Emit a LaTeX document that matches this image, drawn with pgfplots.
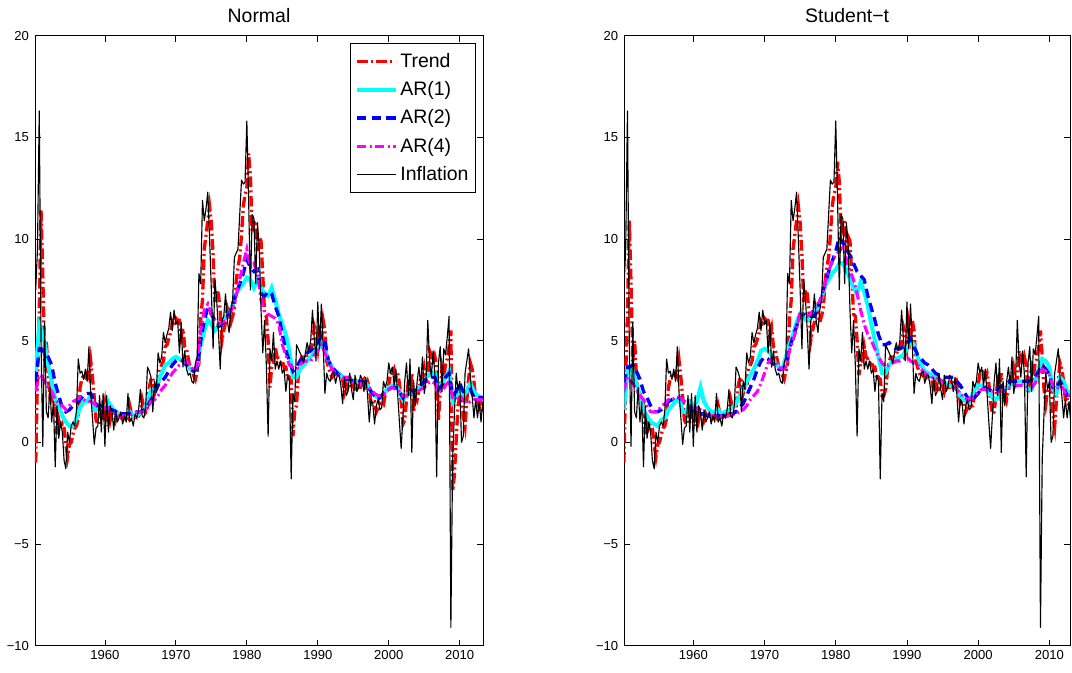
\documentclass[border=0pt]{standalone}
\usepackage{fontspec}
\setmainfont{Liberation Sans}
\usepackage{pgfplots}
\usepackage{pgfplotstable}
\pgfplotsset{compat=1.18}
\definecolor{mred}{rgb}{1,0,0}
\definecolor{mcyan}{rgb}{0,1,1}
\definecolor{mblue}{rgb}{0,0,1}
\definecolor{mmag}{rgb}{1,0,1}

\pgfplotstableread{
x inf tl tr
1950.25 7.5 -1.0 -1.0
1950.5 9.5 3.3 3.3
1950.75 16.3 6.4 6.4
1951.0 5.0 11.4 10.9
1951.25 -0.2 8.2 7.8
1951.5 5.9 4.0 4.0
1951.75 1.5 5.0 5.0
1952.0 1.2 3.3 3.3
1952.25 2.7 2.3 2.3
1952.5 1.0 2.5 2.5
1952.75 2.0 1.8 1.8
1953.0 -1.2 1.9 1.9
1953.25 1.8 0.4 0.4
1953.5 0.2 1.1 1.1
1953.75 1.0 0.7 0.7
1954.0 0.5 0.9 0.9
1954.25 -0.9 0.7 0.7
1954.5 -1.3 -0.1 -0.1
1954.75 0.5 -0.7 -0.7
1955.0 0.0 -0.1 -0.1
1955.25 0.8 0.0 0.0
1955.5 1.0 0.4 0.4
1955.75 0.8 0.7 0.7
1956.0 1.6 0.8 0.8
1956.25 4.1 1.2 1.2
1956.5 3.4 2.7 2.7
1956.75 3.5 3.1 3.1
1957.0 3.1 3.3 3.3
1957.25 3.6 3.2 3.2
1957.5 3.0 3.4 3.4
1957.75 4.7 3.2 3.2
1958.0 2.4 4.0 4.0
1958.25 1.2 3.2 3.2
1958.5 -0.1 2.2 2.2
1958.75 0.7 1.1 1.1
1959.0 0.8 0.9 0.9
1959.25 2.3 0.9 0.9
1959.5 0.5 1.6 1.6
1959.75 2.4 1.1 1.1
1960.0 -0.2 1.8 1.8
1960.25 2.3 0.8 0.8
1960.5 0.5 1.6 1.6
1960.75 1.8 1.1 1.1
1961.0 1.5 1.5 1.5
1961.25 0.6 1.5 1.5
1961.5 1.6 1.1 1.1
1961.75 1.0 1.4 1.4
1962.0 1.2 1.2 1.2
1962.25 1.5 1.2 1.2
1962.5 0.9 1.4 1.4
1962.75 1.3 1.2 1.2
1963.0 1.0 1.3 1.3
1963.25 2.4 1.2 1.2
1963.5 1.0 1.8 1.8
1963.75 1.2 1.4 1.4
1964.0 0.8 1.3 1.3
1964.25 1.4 1.1 1.1
1964.5 1.2 1.3 1.3
1964.75 1.6 1.3 1.3
1965.0 2.6 1.5 1.5
1965.25 1.3 2.1 2.1
1965.5 1.2 1.7 1.7
1965.75 1.8 1.5 1.5
1966.0 3.7 1.7 1.7
1966.25 3.5 2.7 2.7
1966.5 3.2 3.1 3.1
1966.75 1.5 3.2 3.2
1967.0 3.0 2.4 2.4
1967.25 2.6 2.7 2.7
1967.5 4.4 2.7 2.7
1967.75 3.9 3.6 3.6
1968.0 4.2 3.8 3.8
1968.25 5.4 4.0 4.0
1968.5 4.9 4.7 4.7
1968.75 5.3 4.8 4.8
1969.0 5.6 5.1 5.1
1969.25 6.4 5.4 5.4
1969.5 5.5 5.9 5.9
1969.75 6.5 5.7 5.7
1970.0 5.8 6.1 6.1
1970.25 6.0 6.0 6.0
1970.5 4.4 6.0 6.0
1970.75 5.9 5.2 5.2
1971.0 3.7 5.6 5.6
1971.25 4.5 4.7 4.7
1971.5 3.6 4.6 4.6
1971.75 3.3 4.1 4.1
1972.0 3.4 3.7 3.7
1972.25 3.0 3.6 3.6
1972.5 2.9 3.3 3.3
1972.75 3.9 3.1 3.1
1973.0 4.2 3.5 3.5
1973.25 8.3 3.9 3.9
1973.5 7.8 6.1 6.1
1973.75 11.9 7.0 7.0
1974.0 10.9 9.5 9.5
1974.25 11.5 10.2 10.2
1974.5 12.3 10.9 10.9
1974.75 10.0 11.6 11.6
1975.0 7.5 10.8 10.8
1975.25 4.6 9.2 9.2
1975.5 8.0 6.9 6.9
1975.75 7.0 7.5 7.5
1976.0 5.5 7.3 7.3
1976.25 3.6 6.4 6.4
1976.5 6.0 5.0 5.0
1976.75 6.2 5.5 5.5
1977.0 7.3 5.9 5.9
1977.25 6.0 6.6 6.6
1977.5 5.4 6.3 6.3
1977.75 6.5 5.9 5.9
1978.0 7.0 6.2 6.2
1978.25 9.1 6.6 6.6
1978.5 9.3 7.9 7.9
1978.75 9.5 8.6 8.6
1979.0 11.2 9.1 9.1
1979.25 12.9 10.2 10.2
1979.5 12.7 11.6 11.6
1979.75 12.8 12.2 12.2
1980.0 15.8 12.5 12.5
1980.25 12.0 14.2 13.8
1980.5 7.5 13.1 12.8
1980.75 11.2 10.3 10.3
1981.0 11.0 10.8 10.8
1981.25 7.8 10.9 10.9
1981.5 10.8 9.4 9.4
1981.75 9.6 10.1 10.1
1982.0 6.5 9.9 9.9
1982.25 4.4 8.2 8.2
1982.5 6.0 6.3 6.3
1982.75 3.8 6.2 6.2
1983.0 0.3 5.0 5.0
1983.25 4.6 2.7 3.3
1983.5 4.0 3.7 3.9
1983.75 5.4 3.9 3.9
1984.0 3.6 4.7 4.7
1984.25 4.0 4.2 4.2
1984.5 3.6 4.1 4.1
1984.75 4.0 3.9 3.9
1985.0 3.4 4.0 4.0
1985.25 3.6 3.7 3.7
1985.5 2.5 3.7 3.7
1985.75 3.3 3.1 3.1
1986.0 3.0 3.2 3.2
1986.25 -1.8 3.1 3.1
1986.5 2.4 0.3 2.3
1986.75 2.0 1.6 2.3
1987.0 4.8 1.8 2.6
1987.25 4.6 3.3 3.5
1987.5 4.4 4.0 4.0
1987.75 4.2 4.2 4.2
1988.0 3.9 4.2 4.2
1988.25 4.4 4.1 4.1
1988.5 4.9 4.3 4.3
1988.75 4.5 4.6 4.6
1989.0 5.0 4.6 4.6
1989.25 6.5 4.8 4.8
1989.5 5.1 5.7 5.7
1989.75 4.0 5.4 5.4
1990.0 6.9 4.7 4.7
1990.25 4.6 5.8 5.8
1990.5 6.8 5.2 5.2
1990.75 4.9 6.0 6.0
1991.0 2.4 5.5 5.5
1991.25 3.4 4.0 4.0
1991.5 3.1 3.7 3.7
1991.75 3.0 3.4 3.4
1992.0 3.4 3.2 3.2
1992.25 3.5 3.3 3.3
1992.5 2.9 3.4 3.4
1992.75 3.3 3.2 3.2
1993.0 3.3 3.3 3.3
1993.25 2.8 3.3 3.3
1993.5 1.9 3.1 3.1
1993.75 3.2 2.5 2.5
1994.0 2.3 2.9 2.9
1994.25 2.5 2.6 2.6
1994.5 3.4 2.6 2.6
1994.75 2.6 3.0 3.0
1995.0 2.1 2.8 2.8
1995.25 3.3 2.5 2.5
1995.5 2.5 2.9 2.9
1995.75 2.7 2.7 2.7
1996.0 3.3 2.7 2.7
1996.25 3.1 3.0 3.0
1996.5 2.5 3.1 3.1
1996.75 3.2 2.8 2.8
1997.0 2.4 3.0 3.0
1997.25 1.0 2.7 2.7
1997.5 2.1 1.9 1.9
1997.75 1.9 2.0 2.0
1998.0 0.9 2.0 2.0
1998.25 1.8 1.5 1.5
1998.5 2.1 1.7 1.7
1998.75 1.6 1.9 1.9
1999.0 1.7 1.8 1.8
1999.25 3.0 1.8 1.8
1999.5 2.7 2.4 2.4
1999.75 3.0 2.6 2.6
2000.0 3.9 2.8 2.8
2000.25 3.4 3.4 3.4
2000.5 3.7 3.4 3.4
2000.75 2.8 3.6 3.6
2001.0 3.6 3.2 3.2
2001.25 2.4 3.4 3.4
2001.5 1.0 2.9 2.9
2001.75 -0.3 2.0 2.0
2002.0 1.3 0.9 1.4
2002.25 3.0 1.1 1.5
2002.5 3.9 2.1 2.3
2002.75 2.3 3.0 3.0
2003.0 4.1 2.7 2.7
2003.25 -0.5 3.4 3.4
2003.5 3.0 1.5 2.2
2003.75 1.8 2.3 2.5
2004.0 3.0 2.1 2.1
2004.25 3.7 2.6 2.6
2004.5 2.8 3.2 3.2
2004.75 4.2 3.0 3.0
2005.0 2.4 3.6 3.6
2005.25 3.0 3.0 3.0
2005.5 6.0 3.0 3.0
2005.75 4.0 4.5 4.5
2006.0 3.2 4.3 4.3
2006.25 4.5 3.8 3.8
2006.5 3.3 4.2 4.2
2006.75 -1.7 3.8 3.8
2007.0 3.9 1.1 2.4
2007.25 4.7 2.5 3.1
2007.5 2.5 3.6 3.6
2007.75 4.6 3.1 3.1
2008.0 4.3 3.9 3.9
2008.25 5.2 4.1 4.1
2008.5 6.2 4.7 4.7
2008.75 -9.1 5.5 5.5
2009.0 -0.8 -2.4 4.2
2009.25 1.4 -1.6 2.6
2009.5 3.4 0.1 1.9
2009.75 2.6 1.8 2.6
2010.0 3.0 2.2 2.7
2010.25 0.0 2.6 2.8
2010.5 0.3 1.3 1.4
2010.75 3.4 0.8 0.8
2011.0 4.0 2.1 2.1
2011.25 4.6 3.1 3.1
2011.5 3.2 3.9 3.9
2011.75 2.3 3.6 3.6
2012.0 1.2 3.0 3.0
2012.25 2.1 2.1 2.1
2012.5 1.2 2.1 2.1
2012.75 2.0 1.7 1.7
2013.0 1.0 1.9 1.9
2013.25 2.0 1.5 1.5
}\qdata

\pgfplotstableread{
x a1l a2l a4l a1r a2r a4r
1950.25 3.5 3.0 2.5 1.6 2.9 2.5
1950.75 5.8 4.6 3.3 3.5 3.7 3.2
1951.0 5.6 4.6 3.3 3.7 3.7 3.1
1951.5 4.9 4.4 3.0 3.5 3.8 2.9
1952.0 3.8 4.2 2.7 2.9 3.5 2.6
1952.5 3.0 3.8 2.5 2.3 3.1 2.3
1953.0 2.1 2.9 2.1 1.6 2.5 2.1
1953.5 1.8 2.3 1.9 1.3 2.2 1.8
1954.0 1.3 1.7 1.8 1.0 1.8 1.5
1954.5 1.0 1.5 1.6 0.9 1.5 1.5
1955.0 0.8 1.6 1.8 0.8 1.5 1.5
1955.5 0.8 1.8 2.0 1.1 1.6 1.8
1956.0 1.2 1.9 2.1 1.2 1.8 1.9
1956.5 1.7 2.1 2.2 1.6 2.0 2.1
1957.0 2.0 2.3 2.1 1.8 2.1 2.1
1957.5 2.0 2.4 2.0 2.0 2.2 2.2
1958.0 2.3 2.4 2.0 2.2 2.2 2.2
1958.5 1.6 2.0 1.9 1.5 2.1 2.1
1959.0 1.6 1.8 1.7 1.5 1.9 1.9
1959.5 1.8 1.8 1.6 2.0 1.7 1.8
1960.0 1.7 1.7 1.7 1.8 1.6 1.7
1960.5 2.0 1.6 1.7 2.0 1.5 1.7
1961.0 1.7 1.6 1.5 2.7 1.4 1.6
1961.5 1.5 1.5 1.4 2.0 1.4 1.4
1962.0 1.4 1.4 1.3 1.7 1.3 1.4
1962.5 1.4 1.4 1.3 1.5 1.3 1.3
1963.0 1.3 1.4 1.3 1.5 1.3 1.3
1963.5 1.5 1.4 1.3 1.6 1.3 1.3
1964.0 1.3 1.4 1.4 1.4 1.3 1.3
1964.5 1.3 1.5 1.5 1.5 1.3 1.3
1965.0 1.5 1.5 1.5 1.6 1.4 1.3
1965.5 1.6 1.6 1.5 1.7 1.4 1.4
1966.0 2.0 1.8 1.7 1.9 1.5 1.4
1966.5 2.6 2.1 2.0 2.3 1.7 1.5
1967.0 2.6 2.4 2.1 2.6 1.9 1.6
1967.5 3.0 2.8 2.3 3.0 2.3 1.8
1968.0 3.4 3.0 2.6 3.3 2.7 2.1
1968.5 3.8 3.2 2.8 3.6 3.1 2.3
1969.0 3.9 3.5 3.1 4.0 3.6 2.5
1969.5 4.1 3.8 3.4 4.5 4.0 2.9
1970.0 4.2 4.0 3.6 4.6 4.2 3.4
1970.5 4.1 4.1 3.8 4.5 4.1 3.9
1971.0 4.0 4.0 3.9 4.3 3.9 4.1
1971.5 3.8 3.8 4.0 3.9 3.8 4.0
1972.0 3.6 3.6 3.8 3.7 3.6 3.7
1972.5 3.5 3.5 3.5 3.6 3.6 3.6
1973.0 3.8 3.6 3.8 4.2 3.8 3.7
1973.5 4.8 5.0 5.5 4.8 4.6 4.5
1974.0 5.5 6.0 6.5 5.3 5.2 5.0
1974.5 6.0 6.6 6.8 5.9 5.7 5.6
1975.0 5.8 6.3 6.3 6.3 6.3 6.4
1975.5 5.5 6.0 6.0 6.1 6.3 6.3
1976.0 5.7 5.7 5.8 6.0 6.2 6.2
1976.5 5.8 5.8 5.9 6.1 6.2 6.3
1977.0 6.2 6.0 6.0 6.4 6.2 6.6
1977.5 6.3 6.3 6.3 6.7 6.6 6.8
1978.0 6.8 6.8 6.6 7.1 7.2 7.1
1978.5 7.3 7.3 7.2 7.7 7.8 7.8
1979.0 7.6 7.8 8.0 8.0 8.4 8.4
1979.5 7.8 8.3 8.8 8.3 8.9 8.9
1980.0 8.1 9.0 9.5 8.5 9.4 9.2
1980.5 8.0 8.6 8.6 8.8 10.1 9.4
1981.0 7.6 8.4 8.8 8.8 9.8 9.6
1981.5 8.0 8.5 8.3 8.5 9.5 9.0
1982.0 7.6 7.3 7.0 8.0 9.2 8.4
1982.5 7.3 7.2 6.4 7.6 8.8 8.0
1983.0 7.2 7.4 6.3 7.3 8.4 7.3
1983.5 7.6 7.3 6.2 7.9 8.2 6.5
1984.0 7.0 6.7 6.1 7.4 8.0 5.8
1984.5 6.3 6.2 5.8 6.7 7.2 5.3
1985.0 5.8 5.3 4.8 5.8 6.6 5.0
1985.5 5.3 4.5 4.3 5.0 6.0 4.6
1986.0 4.5 4.0 3.8 4.2 5.3 4.2
1986.5 3.2 3.5 3.7 3.4 4.8 3.9
1987.0 3.2 3.7 3.6 3.4 4.8 3.7
1987.5 3.6 4.0 3.8 3.8 4.9 3.8
1988.0 3.8 4.2 4.0 4.0 4.7 3.9
1988.5 4.0 4.4 4.0 4.1 4.6 4.0
1989.0 4.2 4.5 4.0 4.2 4.6 4.0
1989.5 4.4 4.7 4.3 4.3 4.7 4.1
1990.0 4.6 4.9 4.5 4.6 4.9 4.2
1990.5 4.9 5.2 4.8 5.0 5.1 4.0
1991.0 4.6 5.0 4.4 4.8 4.7 3.9
1991.5 4.0 4.0 4.0 4.2 4.3 3.8
1992.0 3.7 3.7 3.6 3.8 4.1 3.6
1992.5 3.5 3.5 3.4 3.5 3.9 3.4
1993.0 3.4 3.3 3.3 3.4 3.8 3.3
1993.5 3.2 3.2 3.2 3.3 3.6 3.2
1994.0 3.1 3.1 3.2 3.2 3.4 3.2
1994.5 3.1 3.1 3.2 3.1 3.3 3.1
1995.0 3.0 3.0 3.0 3.0 3.2 3.0
1995.5 3.0 3.0 2.9 2.9 3.2 2.9
1996.0 2.9 3.0 2.9 2.8 3.2 2.8
1996.5 3.0 3.0 2.8 2.7 3.2 2.7
1997.0 2.8 2.8 2.8 2.6 3.0 2.6
1997.5 2.5 2.5 2.6 2.3 2.8 2.4
1998.0 2.3 2.3 2.4 2.1 2.5 2.2
1998.5 2.2 2.1 2.3 1.9 2.2 2.1
1999.0 2.3 2.3 2.3 2.2 2.0 2.2
1999.5 2.5 2.5 2.4 2.6 2.2 2.3
2000.0 2.7 2.6 2.6 2.8 2.4 2.5
2000.5 2.8 2.7 2.7 2.8 2.7 2.6
2001.0 2.8 2.7 2.6 2.7 2.7 2.6
2001.5 2.5 2.5 2.5 2.5 2.6 2.5
2002.0 2.1 2.2 2.3 2.2 2.5 2.5
2002.5 2.3 2.4 2.3 2.1 2.5 2.5
2003.0 2.5 2.6 2.4 2.3 2.7 2.5
2003.5 2.4 2.5 2.4 2.5 2.8 2.5
2004.0 2.6 2.6 2.5 2.7 2.9 2.6
2004.5 2.8 2.8 2.6 2.8 3.0 2.7
2005.0 3.0 3.0 2.7 2.9 3.0 2.7
2005.5 3.3 3.2 2.9 3.0 3.0 2.8
2006.0 3.4 3.2 3.0 3.0 3.0 2.8
2006.5 3.4 3.2 2.9 2.9 3.0 2.8
2007.0 2.6 2.6 2.5 2.6 3.0 2.7
2007.5 2.9 2.8 2.5 2.6 3.1 2.7
2008.0 3.2 3.2 2.8 3.0 3.2 2.9
2008.5 3.5 3.4 3.0 3.6 3.5 3.3
2009.0 2.0 2.3 2.2 4.1 3.8 3.6
2009.5 2.3 2.5 2.1 4.0 3.6 3.5
2010.0 2.7 2.9 2.3 3.7 3.3 3.3
2010.5 2.3 2.5 2.1 2.6 2.7 2.8
2011.0 2.5 2.5 1.9 2.4 2.7 2.6
2011.5 2.9 2.6 2.0 3.2 3.0 2.8
2012.0 2.5 2.2 2.1 3.0 2.7 2.6
2012.5 2.3 2.2 2.1 2.5 2.3 2.3
2013.0 2.2 2.2 2.1 2.4 2.3 2.3
2013.25 2.2 2.2 2.1 2.4 2.3 2.3
}\ardata

\pgfplotsset{
  panel/.style={
    scale only axis, height=457.5pt,
    anchor=south west,
    ymin=-10, ymax=20,
    ytick={-10,-5,0,5,10,15,20},
    yticklabels={−10,−5,0,5,10,15,20},
    xtick={1960,1970,1980,1990,2000,2010},
    xticklabels={1960,1970,1980,1990,2000,2010},
    tick align=inside, major tick length=4.5pt,
    axis line style={line width=0.6pt},
    every tick/.style={black, line width=0.6pt},
    ticklabel style={font=\fontsize{9.8}{11}\selectfont},
    yticklabel style={xshift=-1pt},
    title style={font=\fontsize{14.6}{17}\selectfont, yshift=0pt},
    legend image code/.code={\draw[#1] (0pt,0pt) -- (29pt,0pt);},
  },
  trend/.style={mred, line width=2.5pt, dash pattern=on 8pt off 2.5pt on 1.5pt off 2.5pt},
  ar1/.style={mcyan, line width=3pt},
  ar2/.style={mblue, line width=2.5pt, dash pattern=on 7pt off 4pt},
  ar4/.style={mmag, line width=2.3pt, dash pattern=on 7pt off 2.5pt on 1.5pt off 2.5pt},
  infl/.style={black, line width=0.85pt, line join=round},
}

\begin{document}
\begin{tikzpicture}
\useasboundingbox (0,0) rectangle (804pt,504.75pt);
\begin{axis}[panel, at={(26.25pt,20.5pt)}, width=336pt,
  xmin=1950.15, xmax=2013.28, title={Normal},
  legend style={at={(0.985,0.9875)}, anchor=north east, draw=black,
    line width=0.6pt, font=\fontsize{14.6}{17}\selectfont,
    inner xsep=3.5pt, inner ysep=5.5pt, row sep=5pt},
  legend cell align=left]
\addplot[trend] table[x=x, y=tl] {\qdata};
\addlegendentry{Trend}
\addplot[ar1] table[x=x, y=a1l] {\ardata};
\addlegendentry{AR(1)}
\addplot[ar2] table[x=x, y=a2l] {\ardata};
\addlegendentry{AR(2)}
\addplot[ar4] table[x=x, y=a4l] {\ardata};
\addlegendentry{AR(4)}
\addplot[infl] table[x=x, y=inf] {\qdata};
\addlegendentry{Inflation}
\end{axis}
\begin{axis}[panel, at={(468.2pt,20.5pt)}, width=334.3pt,
  xmin=1950.3, xmax=2012.9, title={Student−t}]
\addplot[trend] table[x=x, y=tr] {\qdata};
\addplot[ar1] table[x=x, y=a1r] {\ardata};
\addplot[ar2] table[x=x, y=a2r] {\ardata};
\addplot[ar4] table[x=x, y=a4r] {\ardata};
\addplot[infl] table[x=x, y=inf] {\qdata};
\end{axis}
\end{tikzpicture}
\end{document}
